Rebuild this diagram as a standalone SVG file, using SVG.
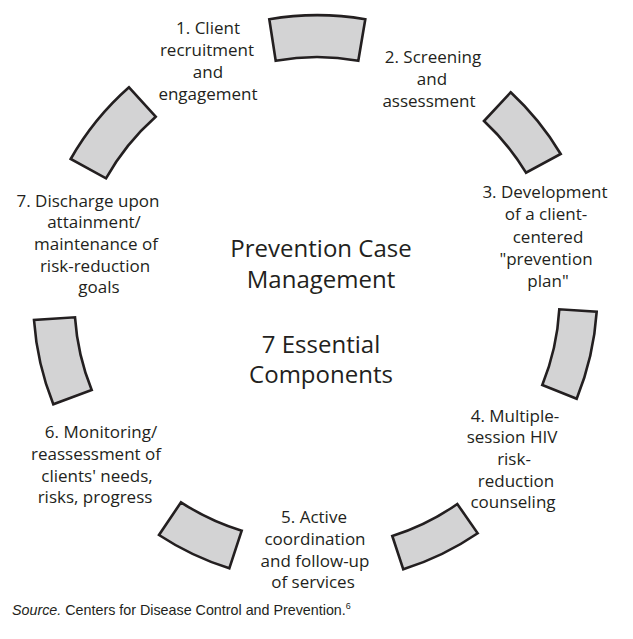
<svg xmlns="http://www.w3.org/2000/svg" width="633" height="639" viewBox="0 0 633 639">
<style>
.seg{fill:#d3d3d4;stroke:#231f20;stroke-width:2.6;stroke-linejoin:miter}
.lbl{font-family:"Open Sans","Noto Sans",sans-serif;font-size:17px;fill:#231f20;text-anchor:middle}
.ttl{font-family:"Open Sans","Noto Sans",sans-serif;font-size:24px;fill:#231f20;text-anchor:middle}
.src{font-family:"Liberation Sans",Arial,sans-serif;font-size:14.3px;fill:#231f20}
</style>
<rect width="633" height="639" fill="#ffffff"/>
<g id="ring">
<path id="seg1" class="seg" d="M269.3,19.3 A280,280 0 0 1 365.3,19.3 L358.3,60.7 A238,238 0 0 0 275.7,60.7 Z"/>
<path id="seg2" class="seg" d="M510.7,92.3 A280,280 0 0 1 560.7,154 L526,172.7 A238,238 0 0 0 484,121 Z"/>
<path id="seg3" class="seg" d="M596.7,311.7 A280,280 0 0 1 576.7,398.7 L542.3,385 A238,238 0 0 0 559.3,309.3 Z"/>
<path id="seg4" class="seg" d="M477.7,533.3 A280,280 0 0 1 403.3,569.3 L392.3,536 A238,238 0 0 0 457.3,504 Z"/>
<path id="seg5" class="seg" d="M229.3,568.3 A280,280 0 0 1 159,535 L181,502.3 A238,238 0 0 0 241.7,530.7 Z"/>
<path id="seg6" class="seg" d="M53.3,404.3 A280,280 0 0 1 34,320 L75,317.3 A238,238 0 0 0 91.7,390 Z"/>
<path id="seg7" class="seg" d="M70.7,159 A280,280 0 0 1 129,87.3 L155.7,116.7 A238,238 0 0 0 106,178.3 Z"/>
</g>
<g id="center">
<text class="ttl" x="321" y="257">Prevention Case</text>
<text class="ttl" x="321" y="288">Management</text>
<text class="ttl" x="321" y="353">7 Essential</text>
<text class="ttl" x="321" y="383">Components</text>
</g>
<g id="label1" class="lbl">
<text x="208" y="34">1. Client</text>
<text x="207" y="56">recruitment</text>
<text x="208" y="78">and</text>
<text x="208" y="100">engagement</text>
</g>
<g id="label2" class="lbl">
<text x="433" y="63">2. Screening</text>
<text x="432" y="85">and</text>
<text x="429" y="107">assessment</text>
</g>
<g id="label3" class="lbl">
<text x="545" y="198">3. Development</text>
<text x="546" y="220">of a client-</text>
<text x="548" y="243">centered</text>
<text x="546" y="265">"prevention</text>
<text x="548" y="287">plan"</text>
</g>
<g id="label4" class="lbl">
<text x="515" y="422">4. Multiple-</text>
<text x="512" y="443">session HIV</text>
<text x="514" y="465">risk-</text>
<text x="516" y="487">reduction</text>
<text x="513" y="508">counseling</text>
</g>
<g id="label5" class="lbl">
<text x="314" y="523">5. Active</text>
<text x="315" y="545">coordination</text>
<text x="315" y="567">and follow-up</text>
<text x="313" y="588">of services</text>
</g>
<g id="label6" class="lbl">
<text x="101" y="438">6. Monitoring/</text>
<text x="96" y="460">reassessment of</text>
<text x="97" y="482">clients' needs,</text>
<text x="95" y="503">risks, progress</text>
</g>
<g id="label7" class="lbl">
<text x="88" y="207">7. Discharge upon</text>
<text x="94" y="228">attainment/</text>
<text x="96" y="250">maintenance of</text>
<text x="95" y="272">risk-reduction</text>
<text x="99" y="293">goals</text>
</g>
<g id="source">
<text class="src" x="12" y="615"><tspan font-style="italic">Source.</tspan> Centers for Disease Control and Prevention.<tspan font-size="9px" dy="-6">6</tspan></text>
</g>
</svg>
